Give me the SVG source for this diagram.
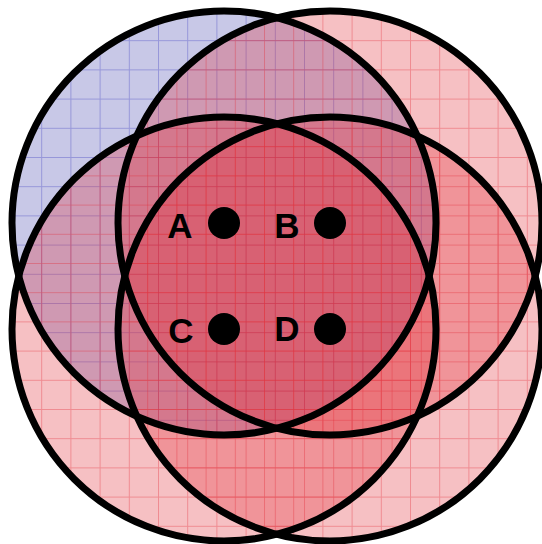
<svg xmlns="http://www.w3.org/2000/svg" width="542" height="544" viewBox="0 0 542 544">
  <style>
    .fill-blue { fill: rgb(72,72,175); fill-opacity: 0.3; }
    .fill-red { fill: rgb(225,45,55); fill-opacity: 0.3; }
    .grid-blue { fill: none; stroke: rgb(90,90,200); stroke-opacity: 0.45; stroke-width: 1; }
    .grid-red { fill: none; stroke: rgb(225,40,52); stroke-opacity: 0.35; stroke-width: 1; }
    .outline { fill: none; stroke: #000; stroke-width: 7; }
    .dot { fill: #000; }
    .label { font-family: "Liberation Sans", Arial, sans-serif; font-weight: bold; font-size: 35px; fill: #000; text-anchor: middle; }
  </style>
  <defs>
    <pattern id="gridA" patternUnits="userSpaceOnUse" x="12" y="11" width="29.2" height="29.2">
      <path class="grid-blue" d="M0 0.5 H29.2 M0.5 0 V29.2"/>
    </pattern>
    <pattern id="gridB" patternUnits="userSpaceOnUse" x="118" y="11" width="29.2" height="29.2">
      <path class="grid-red" d="M0 0.5 H29.2 M0.5 0 V29.2"/>
    </pattern>
    <pattern id="gridC" patternUnits="userSpaceOnUse" x="12" y="117" width="29.2" height="29.2">
      <path class="grid-red" d="M0 0.5 H29.2 M0.5 0 V29.2"/>
    </pattern>
    <pattern id="gridD" patternUnits="userSpaceOnUse" x="118" y="117" width="29.2" height="29.2">
      <path class="grid-red" d="M0 0.5 H29.2 M0.5 0 V29.2"/>
    </pattern>
  </defs>

  <g id="fills">
    <g id="set-A-fill">
      <circle class="fill-blue" cx="224" cy="223" r="212"/>
      <circle fill="url(#gridA)" cx="224" cy="223" r="212"/>
    </g>
    <g id="set-B-fill">
      <circle class="fill-red" cx="330" cy="223" r="212"/>
      <circle fill="url(#gridB)" cx="330" cy="223" r="212"/>
    </g>
    <g id="set-C-fill">
      <circle class="fill-red" cx="224" cy="329" r="212"/>
      <circle fill="url(#gridC)" cx="224" cy="329" r="212"/>
    </g>
    <g id="set-D-fill">
      <circle class="fill-red" cx="330" cy="329" r="212"/>
      <circle fill="url(#gridD)" cx="330" cy="329" r="212"/>
    </g>
  </g>

  <g id="outlines">
    <circle class="outline" cx="224" cy="223" r="212"/>
    <circle class="outline" cx="330" cy="223" r="212"/>
    <circle class="outline" cx="224" cy="329" r="212"/>
    <circle class="outline" cx="330" cy="329" r="212"/>
  </g>

  <g id="node-A">
    <circle class="dot" cx="224" cy="223" r="16"/>
    <text class="label" x="180" y="238">A</text>
  </g>
  <g id="node-B">
    <circle class="dot" cx="330" cy="223" r="16"/>
    <text class="label" x="287" y="238">B</text>
  </g>
  <g id="node-C">
    <circle class="dot" cx="224" cy="329" r="16"/>
    <text class="label" x="181" y="343">C</text>
  </g>
  <g id="node-D">
    <circle class="dot" cx="330" cy="329" r="16"/>
    <text class="label" x="287" y="341">D</text>
  </g>
</svg>
